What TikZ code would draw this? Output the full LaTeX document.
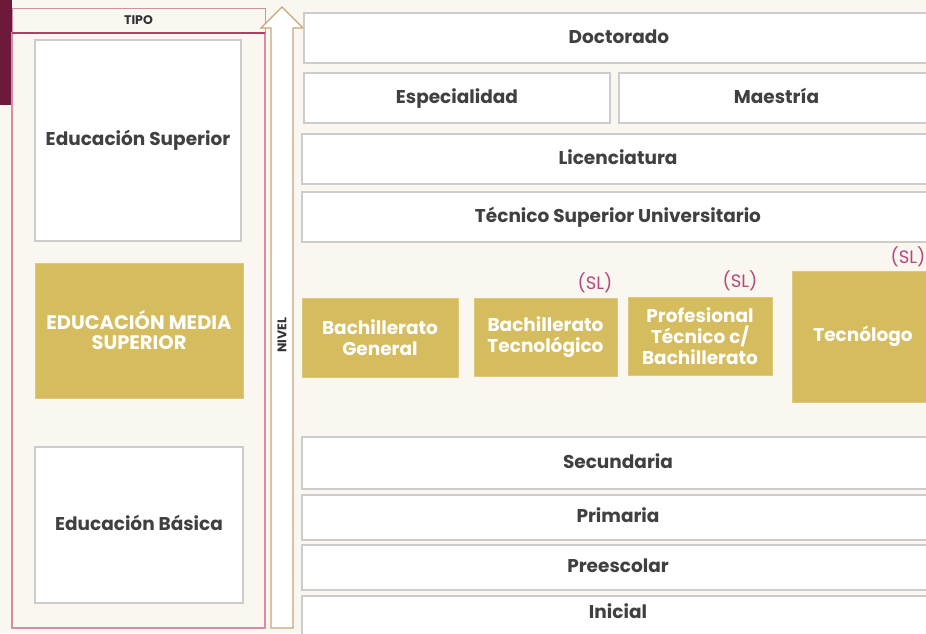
\documentclass[tikz,border=0pt]{standalone}
\usepackage{fontspec}
\setmainfont{Poppins}
\usetikzlibrary{positioning,calc}

\definecolor{crema}{HTML}{FAF7F1}
\definecolor{guinda}{HTML}{6D1A3A}
\definecolor{rosa}{HTML}{D68DA3}
\definecolor{rosaosc}{HTML}{B23C62}
\definecolor{oro}{HTML}{D5BC5E}
\definecolor{bronce}{HTML}{C9A57A}
\definecolor{gris}{HTML}{CCCCCC}
\definecolor{texto}{HTML}{404040}
\definecolor{slcolor}{HTML}{B5477A}

\tikzset{
    nivelbox/.style={draw=gris, line width=1.4pt, fill=white, text=texto, align=center,
        inner sep=0pt, text height=14pt, text depth=4pt, font=\bfseries\fontsize{18.5}{21}\selectfont},
    orobox/.style={draw=oro!80!white, line width=1pt, fill=oro, text=white, align=center,
        inner sep=0pt, font=\bfseries\fontsize{18.5}{21}\selectfont},
    slnota/.style={text=slcolor, inner sep=0pt, font=\fontsize{18}{19}\selectfont},
    mini/.style={text=black!80, inner sep=0pt, font=\bfseries\fontsize{12.5}{13}\selectfont}
}

\begin{document}
\begin{tikzpicture}[x=1pt,y=-1pt]
    \useasboundingbox (0,0) rectangle (926,633);
    \clip (0,0) rectangle (926,633);
    \fill[crema] (0,0) rectangle (926,633);

    % tipo
    \fill[guinda] (0,0) rectangle (12,105);
    \node[draw=rosa, line width=1pt, minimum width=253, minimum height=25, mini] (tipo) at (138.5,20.5) {TIPO};
    \draw[rosa, line width=1.4pt] (12,33) rectangle (265,628);
    \draw[rosaosc, line width=2pt] (12,33) -- (265,33);

    \node[nivelbox, minimum width=206, minimum height=201] (superior) at (138,140.5) {Educación Superior};
    \node[orobox, minimum width=208, minimum height=135, font=\bfseries\fontsize{19.5}{20}\selectfont] (media) at (139,330.5) {EDUCACIÓN MEDIA\\SUPERIOR};
    \node[nivelbox, minimum width=208, minimum height=156] (basica) at (139,525) {Educación Básica};

    % nivel
    \draw[bronce, line width=1.2pt, fill=white] (271,628) -- (271,28) -- (261,28) -- (282,7)
        -- (303,28) -- (293,28) -- (293,628) -- cycle;
    \node[mini, rotate=90] (nivel) at (282,335) {NIVEL};

    % superior
    \node[nivelbox, minimum width=630, minimum height=50] (doctorado) at (619,38) {Doctorado};
    \node[nivelbox, minimum width=306, minimum height=50] (especialidad) at (457,98) {Especialidad};
    \node[nivelbox, minimum width=315, minimum height=50] (maestria) at (776.5,98) {Maestría};
    \node[nivelbox, minimum width=632, minimum height=50] (licenciatura) at (618,159) {Licenciatura};
    \node[nivelbox, minimum width=632, minimum height=50] (tsu) at (618,217) {Técnico Superior Universitario};

    % media superior
    \node[orobox, minimum width=156, minimum height=79] (bachgen) at (380,337.5) {Bachillerato\\General};
    \node[orobox, minimum width=143, minimum height=78] (bachtec) at (545.5,337) {Bachillerato\\Tecnológico};
    \node[orobox, minimum width=144, minimum height=78] (profesional) at (700,336) {Profesional\\Técnico c/\\Bachillerato};
    \node[orobox, minimum width=142, minimum height=131] (tecnologo) at (863,336.5) {Tecnólogo};
    \node[slnota] (slbachtec) at (595,283) {(SL)};
    \node[slnota] (slprofesional) at (740,281) {(SL)};
    \node[slnota] (sltecnologo) at (908,257) {(SL)};

    % basica
    \node[nivelbox, minimum width=632, minimum height=52] (secundaria) at (618,463) {Secundaria};
    \node[nivelbox, minimum width=632, minimum height=45] (primaria) at (618,517.5) {Primaria};
    \node[nivelbox, minimum width=632, minimum height=45] (preescolar) at (618,567.5) {Preescolar};
    \node[nivelbox, minimum width=632, minimum height=46] (inicial) at (618,619) {};
    \node[nivelbox, draw=none, fill=none] (inicialtxt) at ($(inicial.north)+(0,18)$) {Inicial};
\end{tikzpicture}
\end{document}
